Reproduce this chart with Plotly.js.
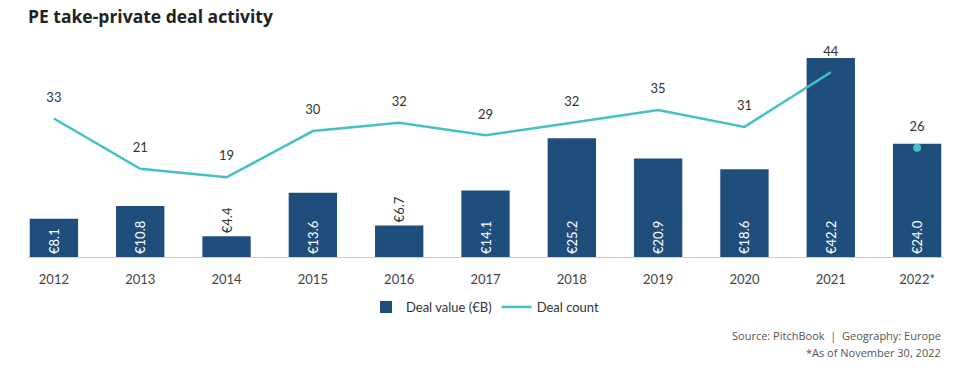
<!DOCTYPE html>
<html>
<head>
<meta charset="utf-8">
<script src="https://cdn.plot.ly/plotly-3.0.1.min.js"></script>
<style>html,body{margin:0;padding:0;background:#fff;}#chart{width:977px;height:376px;}</style>
</head>
<body>
<div id="chart"></div>
<script>
var years = ['2012','2013','2014','2015','2016','2017','2018','2019','2020','2021','2022*'];
var dealValue = [8.1, 10.8, 4.4, 13.6, 6.7, 14.1, 25.2, 20.9, 18.6, 42.2, 24.0];
var dealCount = [33, 21, 19, 30, 32, 29, 32, 35, 31, 44, 26];
var valueLabels = dealValue.map(function(v){ return '€' + v.toFixed(1); });
var labelPos = dealValue.map(function(v){ return v < 8 ? 'outside' : 'inside'; });

var barColor = '#1f4e7d';
var lineColor = '#45c0c4';
var font = 'Lato, "Open Sans", sans-serif';

var nLine = years.length - 1;

var traces = [
  {
    type: 'bar', name: 'Deal value (€B)', x: years, y: dealValue,
    marker: {color: barColor},
    text: valueLabels, textposition: labelPos, textangle: -90,
    insidetextanchor: 'start',
    insidetextfont: {color: '#ffffff', size: 13, family: font},
    outsidetextfont: {color: '#333333', size: 13, family: font},
    cliponaxis: false, hoverinfo: 'skip'
  },
  {
    type: 'scatter', mode: 'lines', name: 'Deal count',
    x: years.slice(0, nLine), y: dealCount.slice(0, nLine), yaxis: 'y2',
    line: {color: lineColor, width: 2.5}, hoverinfo: 'skip'
  },
  {
    type: 'scatter', mode: 'markers', showlegend: false,
    x: years.slice(nLine), y: dealCount.slice(nLine), yaxis: 'y2',
    marker: {color: lineColor, size: 8}, hoverinfo: 'skip'
  },
  {
    type: 'scatter', mode: 'markers+text', showlegend: false,
    x: years, y: dealCount, yaxis: 'y2',
    marker: {size: 20, opacity: 0},
    text: dealCount.map(String), textposition: 'top center',
    textfont: {color: '#333333', size: 13, family: font},
    cliponaxis: false, hoverinfo: 'skip'
  }
];

var layout = {
  width: 977, height: 376,
  margin: {l: 28, r: 34, t: 45, b: 119},
  paper_bgcolor: '#ffffff', plot_bgcolor: '#ffffff',
  font: {family: font, color: '#444444', size: 13},
  title: {
    text: '<b>PE take-private deal activity</b>',
    x: 0, xref: 'paper', xanchor: 'left', y: 0.955, yanchor: 'middle',
    font: {family: '"Open Sans", sans-serif', size: 17.5, color: '#222222'}
  },
  bargap: 0.44,
  showlegend: true,
  legend: {
    orientation: 'h', x: 0.5, xanchor: 'center', y: -0.236, yanchor: 'middle',
    font: {size: 13, color: '#333333', family: font},
    traceorder: 'normal', itemwidth: 30
  },
  xaxis: {
    type: 'category', range: [-0.3, 10.3],
    showline: true, linecolor: '#c9ced6', linewidth: 1,
    showgrid: false, zeroline: false,
    ticks: 'outside', ticklen: 10, tickcolor: 'rgba(0,0,0,0)',
    tickfont: {size: 13, color: '#444444', family: font},
    fixedrange: true
  },
  yaxis: {
    range: [0, 44.95], visible: false, showgrid: false, zeroline: false, fixedrange: true
  },
  yaxis2: {
    range: [0, 50.5], overlaying: 'y', side: 'right', visible: false,
    showgrid: false, zeroline: false, fixedrange: true
  },
  annotations: [
    {text: 'Source: PitchBook  |  Geography: Europe', xref: 'paper', yref: 'paper',
     x: 1, xanchor: 'right', y: -0.37, yanchor: 'middle', showarrow: false,
     font: {size: 11, color: '#555555', family: '"Open Sans", sans-serif'}},
    {text: '*As of November 30, 2022', xref: 'paper', yref: 'paper',
     x: 1, xanchor: 'right', y: -0.45, yanchor: 'middle', showarrow: false,
     font: {size: 11, color: '#555555', family: '"Open Sans", sans-serif'}}
  ]
};

Plotly.newPlot('chart', traces, layout, {displayModeBar: false, staticPlot: true});
</script>
</body>
</html>
